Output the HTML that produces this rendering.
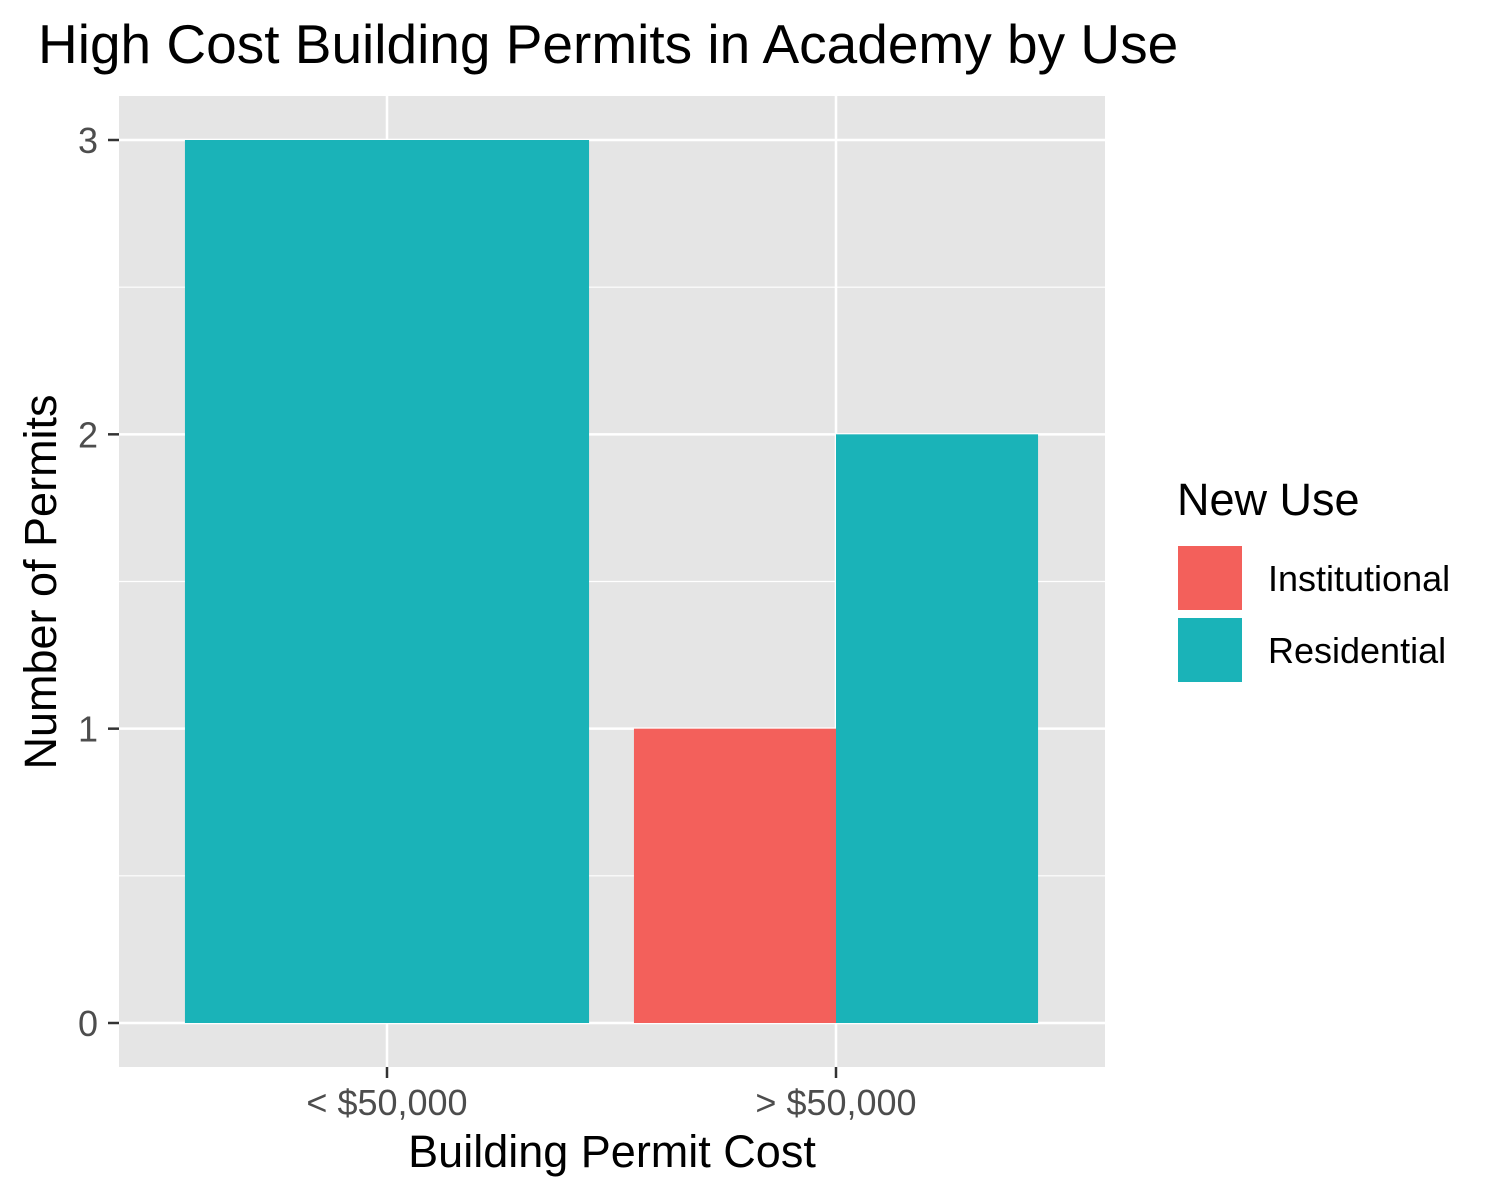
<!DOCTYPE html>
<html><head><meta charset="utf-8"><style>
body{margin:0;background:#fff;}
svg{display:block;font-family:"Liberation Sans",Arial,sans-serif;}
</style></head><body>
<svg id="chart" width="1500" height="1199" viewBox="0 0 1500 1199">
<text x="38" y="63" font-size="55" fill="#000">High Cost Building Permits in Academy by Use</text>
<rect x="119" y="96" width="986" height="971" fill="#e5e5e5"/>
<g id="grid"></g><g id="bars"></g><g id="axes"></g>
<text x="612" y="1167" font-size="45" text-anchor="middle" fill="#000">Building Permit Cost</text>
<text transform="translate(56,582) rotate(-90)" font-size="45" text-anchor="middle" fill="#000">Number of Permits</text>
<g>
<text x="1177" y="515" font-size="45" fill="#000">New Use</text>
<g><rect x="1177" y="545" width="66" height="66" fill="#f3605b" stroke="#fff" stroke-width="2"/><text x="1268" y="591" font-size="36" fill="#000">Institutional</text></g>
<g><rect x="1177" y="617" width="66" height="66" fill="#1ab3b8" stroke="#fff" stroke-width="2"/><text x="1268" y="663" font-size="36" fill="#000">Residential</text></g>
</g>
</svg>
<script>
const categories = ["< $50,000", "> $50,000"];
const institutional = [0, 1];
const residential = [3, 2];
const yTicks = [0, 1, 2, 3];
const NS = "http://www.w3.org/2000/svg";
const px0 = 119, px1 = 1105, py0 = 96, py1 = 1067;
function yScale(v){ return 1023 - v * (1023 - 140) / 3; }
function xScale(i){ return 387 + i * 449; }
const band = 449 * 0.9;
function mk(tag, attrs, parent){ const e = document.createElementNS(NS, tag); for (const k in attrs) e.setAttribute(k, attrs[k]); parent.appendChild(e); return e; }
const grid = document.getElementById('grid'), bars = document.getElementById('bars'), axes = document.getElementById('axes');
for (let i = 0; i < yTicks.length - 1; i++) {
  const y = yScale((yTicks[i] + yTicks[i+1]) / 2);
  const l = mk('line', {x1:px0, x2:px1, y1:y, y2:y, stroke:'#fff', 'stroke-width':1.2}, grid);
  
  
}
yTicks.forEach(t => {
  const y = yScale(t);
  const l = mk('line', {x1:px0, x2:px1, y1:y, y2:y, stroke:'#fff', 'stroke-width':2.5}, grid);
  
  
  mk('line', {x1:108, x2:119, y1:y, y2:y, stroke:'#333', 'stroke-width':2.5}, axes);
  const tx = mk('text', {x:98, y:y + 13, 'font-size':36, 'text-anchor':'end', fill:'#4d4d4d'}, axes);
  tx.textContent = t;
  
  
});
categories.forEach((c, i) => {
  const x = xScale(i);
  const l = mk('line', {x1:x, x2:x, y1:py0, y2:py1, stroke:'#fff', 'stroke-width':2.5}, grid);
  
  
  mk('line', {x1:x, x2:x, y1:py1, y2:py1 + 11, stroke:'#333', 'stroke-width':2.5}, axes);
  const tx = mk('text', {x:x, y:1115, 'font-size':36, 'text-anchor':'middle', fill:'#4d4d4d'}, axes);
  tx.textContent = c;
  
  
  const series = [];
  if (institutional[i] > 0) series.push(['institutional', institutional[i], '#f3605b']);
  if (residential[i] > 0) series.push(['residential', residential[i], '#1ab3b8']);
  const w = band / series.length;
  series.forEach((s, j) => {
    const x0 = x - band / 2 + j * w;
    const r = mk('rect', {x:x0, y:yScale(s[1]), width:w, height:yScale(0) - yScale(s[1]), fill:s[2]}, bars);
    
    
  });
});
</script>
</body></html>
